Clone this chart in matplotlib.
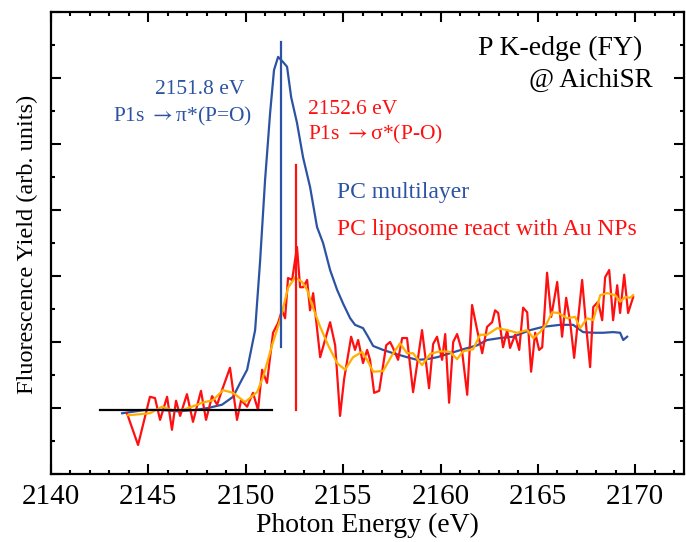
import matplotlib
matplotlib.use("Agg")
import matplotlib.pyplot as plt
from matplotlib.ticker import MultipleLocator, NullFormatter

plt.rcParams['font.family'] = ['Liberation Serif', 'DejaVu Serif']
plt.rcParams['mathtext.fontset'] = 'stix'

# ---------------- data ----------------
multilayer_E = [2143.65, 2144.83, 2145.70, 2146.52, 2147.40, 2148.06, 2148.78, 2149.35,
                2149.71, 2150.07, 2150.48, 2150.73, 2150.99, 2151.25, 2151.45, 2151.66,
                2151.92, 2152.12, 2152.33, 2152.63, 2152.94, 2153.30, 2153.66, 2153.97,
                2154.33, 2154.69, 2155.00, 2155.36, 2155.61, 2156.02, 2156.28, 2156.54,
                2157.05, 2157.57, 2158.28, 2158.80, 2159.31, 2159.83, 2160.49, 2161.16,
                2161.88, 2162.39, 2163.06, 2163.73, 2164.60, 2165.27, 2166.14, 2166.81,
                2167.32, 2167.84, 2168.35, 2168.86, 2169.22, 2169.38, 2169.58]
multilayer_I = [-0.08, -0.03, -0.03, -0.05, -0.03, 0.00, 0.05, 0.17,
                0.38, 0.58, 1.18, 2.20, 3.45, 4.47, 5.12, 5.32,
                5.24, 5.17, 4.71, 4.32, 3.80, 3.35, 2.74, 2.50,
                2.09, 1.79, 1.58, 1.36, 1.26, 1.21, 1.08, 0.94,
                0.88, 0.83, 0.77, 0.73, 0.74, 0.77, 0.83, 0.89,
                0.95, 1.03, 1.06, 1.08, 1.18, 1.23, 1.26, 1.26,
                1.15, 1.14, 1.14, 1.15, 1.14, 1.03, 1.08]

liposome_E = [2143.90, 2144.47, 2145.08, 2145.34, 2145.60, 2145.96, 2146.21, 2146.42,
              2146.63, 2146.98, 2147.29, 2147.70, 2147.96, 2148.27, 2148.53, 2148.78,
              2149.19, 2149.55, 2149.76, 2150.07, 2150.37, 2150.63, 2150.84, 2151.09,
              2151.40, 2151.66, 2151.86, 2152.02, 2152.17, 2152.38, 2152.63, 2152.79,
              2152.94, 2153.15, 2153.30, 2153.46, 2153.82, 2154.07, 2154.33, 2154.59,
              2154.84, 2155.05, 2155.41, 2155.61, 2155.77, 2156.02, 2156.23, 2156.38,
              2156.59, 2156.85, 2157.21, 2157.41, 2157.56, 2157.82, 2158.03, 2158.28,
              2158.59, 2158.85, 2159.05, 2159.21, 2159.41, 2159.62, 2159.82, 2160.08,
              2160.24, 2160.44, 2160.65, 2160.85, 2161.11, 2161.37, 2161.62, 2161.88,
              2162.14, 2162.39, 2162.65, 2162.80, 2162.96, 2163.21, 2163.42, 2163.57,
              2163.83, 2164.04, 2164.24, 2164.45, 2164.65, 2164.86, 2165.06, 2165.22,
              2165.47, 2165.68, 2165.99, 2166.24, 2166.45, 2166.66, 2166.86, 2167.27,
              2167.48, 2167.68, 2167.84, 2168.09, 2168.30, 2168.45, 2168.66, 2168.86,
              2169.07, 2169.22, 2169.43, 2169.63, 2169.89]
liposome_I = [-0.08, -0.56, 0.17, 0.15, -0.18, 0.17, -0.33, 0.11,
              -0.12, 0.21, -0.21, 0.26, -0.18, 0.18, 0.05, 0.27,
              0.61, -0.18, 0.12, 0.02, 0.23, -0.03, 0.58, 0.38,
              1.14, 1.29, 1.48, 1.36, 1.97, 1.94, 2.44, 1.83,
              1.83, 1.94, 1.48, 1.74, 0.77, 1.03, 1.30, 0.95,
              -0.12, 0.44, 1.08, 0.88, 1.03, 0.68, 0.88, 0.73,
              0.23, 0.26, 0.95, 1.00, 0.91, 0.73, 1.06, 1.06,
              0.24, 0.77, 1.18, 0.80, 0.30, 0.97, 1.08, 0.73,
              1.12, 0.08, 1.00, 1.12, 0.85, 0.20, 1.56, 1.18,
              0.83, 1.23, 1.30, 1.48, 1.44, 0.92, 1.18, 0.91,
              1.11, 0.88, 1.52, 1.45, 0.55, 1.14, 0.88, 0.92,
              2.05, 1.38, 1.91, 1.08, 1.67, 1.29, 0.76, 1.94,
              1.23, 0.62, 1.53, 1.61, 1.33, 1.98, 2.09, 1.33,
              1.86, 1.44, 2.02, 1.44, 1.68]

smooth_E = [2143.95, 2145.08, 2145.70, 2146.21, 2146.73, 2147.24, 2147.76, 2148.32,
            2148.83, 2149.35, 2149.96, 2150.58, 2150.89, 2151.35, 2151.76, 2152.17,
            2152.53, 2152.89, 2153.15, 2153.40, 2153.82, 2154.23, 2154.69, 2155.10,
            2155.51, 2155.97, 2156.23, 2156.54, 2157.05, 2157.51, 2157.92, 2158.28,
            2158.59, 2159.05, 2159.47, 2159.98, 2160.49, 2160.85, 2161.16, 2161.67,
            2162.03, 2162.39, 2162.91, 2163.42, 2163.93, 2164.45, 2164.76, 2165.11,
            2165.47, 2165.73, 2166.04, 2166.50, 2166.91, 2167.17, 2167.53, 2167.84,
            2168.20, 2168.56, 2168.97, 2169.22, 2169.48, 2169.74, 2169.89]
smooth_I = [-0.11, -0.08, 0.02, -0.03, -0.03, 0.02, 0.08, 0.12,
            0.27, 0.23, 0.09, 0.24, 0.47, 0.95, 1.33, 1.82,
            1.98, 1.91, 1.79, 1.56, 1.23, 0.95, 0.68, 0.58,
            0.77, 0.85, 0.73, 0.55, 0.56, 0.80, 0.98, 0.83,
            0.83, 0.65, 0.82, 0.86, 0.85, 0.74, 0.86, 0.89,
            1.11, 1.11, 1.21, 1.18, 1.14, 1.18, 1.06, 1.15,
            1.29, 1.45, 1.44, 1.36, 1.38, 1.21, 1.36, 1.33,
            1.71, 1.74, 1.71, 1.61, 1.68, 1.67, 1.71]

pi_peak_E = 2151.8
pi_line_I = [0.92, 5.55]
sigma_peak_E = 2152.6
sigma_line_I = [-0.03, 3.68]
baseline_E = [2142.5, 2151.35]
baseline_I = [-0.03, -0.03]

x_ticks = [2140, 2145, 2150, 2155, 2160, 2165, 2170]

BLUE = '#2c53a3'
RED = '#ff1010'
ORANGE = '#ffb000'

# ---------------- figure ----------------
fig = plt.figure(figsize=(6.86, 5.42), dpi=100)
ax = fig.add_axes([51/686, 1 - 474/542, (684 - 51)/686, (474 - 12)/542])

ax.plot(multilayer_E, multilayer_I, color=BLUE, lw=1.6, zorder=2)
ax.plot(liposome_E, liposome_I, color=RED, lw=1.6, zorder=3)
ax.plot(smooth_E, smooth_I, color=ORANGE, lw=1.6, zorder=4)
ax.plot([pi_peak_E, pi_peak_E], pi_line_I, color=BLUE, lw=1.6, zorder=5)
ax.plot([sigma_peak_E, sigma_peak_E], sigma_line_I, color=RED, lw=1.6, zorder=5)
ax.plot(baseline_E, baseline_I, color='black', lw=1.6, zorder=6)

ax.set_xlim(2140, 2172.5)
ax.set_ylim(-1, 6)
ax.set_xticks(x_ticks)
ax.xaxis.set_minor_locator(MultipleLocator(1))
ax.yaxis.set_major_locator(MultipleLocator(1))
ax.yaxis.set_minor_locator(MultipleLocator(0.5))
ax.yaxis.set_major_formatter(NullFormatter())
ax.tick_params(which='both', direction='in', top=True, right=True, width=1.5, labelsize=21, pad=7)
ax.tick_params(which='major', length=7)
ax.tick_params(which='minor', length=3)
for s in ax.spines.values():
    s.set_linewidth(1.6)

ax.set_xlabel('Photon Energy (eV)', fontsize=20, labelpad=2)
ax.set_ylabel('Fluorescence Yield (arb. units)', fontsize=17.5)
ax.yaxis.set_label_coords(-0.0205, 0.496)

ax.text(2170.35, 5.45, 'P K-edge (FY)', fontsize=20, ha='right', va='center', color='black')
ax.text(2170.87, 4.97, '@ AichiSR', fontsize=19.5, ha='right', va='center', color='black')
ax.text(2145.34, 4.82, '2151.8 eV', fontsize=15.5, ha='left', va='center', color=BLUE)
ax.text(2143.18, 4.41, 'P1s $\\rightarrow$\u03c0*(P=O)', fontsize=15.5, ha='left', va='center', color=BLUE)
ax.text(2153.20, 4.52, '2152.6 eV', fontsize=15.5, ha='left', va='center', color=RED)
ax.text(2153.20, 4.14, 'P1s $\\rightarrow$\u03c3*(P-O)', fontsize=15.5, ha='left', va='center', color=RED)
ax.text(2154.69, 3.26, 'PC multilayer', fontsize=17, ha='left', va='center', color=BLUE)
ax.text(2154.69, 2.70, 'PC liposome react with Au NPs', fontsize=17, ha='left', va='center', color=RED)

fig.savefig('out.png', dpi=100)
